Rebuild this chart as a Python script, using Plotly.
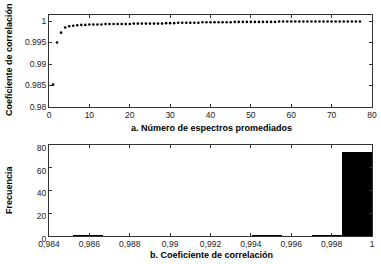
import plotly.graph_objects as go

# Top plot: correlation coefficient vs number of averaged spectra
n_espectros = list(range(1, 78))
coef_corr = [
    0.9852, 0.9950, 0.9973, 0.9985, 0.9988, 0.9989, 0.9990, 0.9991, 0.9991, 0.9992,
    0.9992, 0.9992, 0.9992, 0.9993, 0.9993, 0.9993, 0.9993, 0.9993, 0.9993, 0.9993,
    0.9994, 0.9994, 0.9994, 0.9994, 0.9994, 0.9994, 0.9994, 0.9994, 0.9995, 0.9995,
    0.9995, 0.9996, 0.9996, 0.9996, 0.9996, 0.9996, 0.9996, 0.9997, 0.9997, 0.9997,
    0.9997, 0.9997, 0.9997, 0.9997, 0.9997, 0.9998, 0.9998, 0.9998, 0.9998, 0.9998,
    0.9998, 0.9998, 0.9998, 0.9998, 0.9998, 0.9998, 0.9999, 0.9999, 0.9999, 0.9999,
    0.9999, 0.9999, 0.9999, 0.9999, 0.9999, 0.9999, 0.9999, 0.9999, 0.9999, 0.9999,
    0.9999, 0.9999, 0.9999, 0.9999, 0.9999, 0.9999, 0.9999,
]

# Bottom plot: histogram of the coefficients (10 bins)
bin_counts = [1, 0, 0, 0, 0, 0, 1, 0, 1, 74]
hist_min = 0.9852
hist_max = 1.0000

top_xticks = [0, 10, 20, 30, 40, 50, 60, 70, 80]
top_yticks = [0.98, 0.985, 0.99, 0.995, 1]
top_yticklabels = ["0.98", "0.985", "0.99", "0.995", "1"]
bot_xticks = [0.984, 0.986, 0.988, 0.990, 0.992, 0.994, 0.996, 0.998, 1.0]
bot_xticklabels = ["0,984", "0,986", "0,988", "0,99", "0,992", "0,994", "0,996", "0,998", "1"]
bot_yticks = [0, 20, 40, 60, 80]

nb = len(bin_counts)
bw = (hist_max - hist_min) / nb
bin_centers = [hist_min + bw * (i + 0.5) for i in range(nb)]

W, H = 381, 264

def fx(p):
    return p / W

def fy(p):
    return 1 - p / H

fig = go.Figure()
fig.add_trace(go.Scatter(
    x=n_espectros, y=coef_corr, mode="markers",
    marker=dict(color="black", size=2.6, symbol="circle"),
    xaxis="x", yaxis="y", showlegend=False, hoverinfo="skip"))
fig.add_trace(go.Bar(
    x=bin_centers, y=bin_counts, width=[bw] * nb,
    marker=dict(color="black", line=dict(width=0)),
    xaxis="x2", yaxis="y2", showlegend=False))

tickfont = dict(family="Liberation Sans, Arial, sans-serif", size=8.5, color="#222")
axcommon = dict(showline=True, linecolor="#333", linewidth=1, mirror="ticks",
                ticks="inside", ticklen=3, tickcolor="#333", showgrid=False,
                zeroline=False, tickfont=tickfont, automargin=False)

fig.update_layout(
    width=W, height=H, autosize=False,
    margin=dict(l=0, r=0, t=0, b=0, pad=0),
    paper_bgcolor="white", plot_bgcolor="white",
    bargap=0,
    xaxis=dict(domain=[fx(49), fx(372)], range=[0, 80], tickvals=top_xticks,
               anchor="y", **axcommon),
    yaxis=dict(domain=[fy(107), fy(15)], range=[0.98, 1.0014], tickvals=top_yticks,
               ticktext=top_yticklabels, anchor="x", **axcommon),
    xaxis2=dict(domain=[fx(49), fx(372)], range=[0.984, 1.0], tickvals=bot_xticks,
                ticktext=bot_xticklabels, anchor="y2", **axcommon),
    yaxis2=dict(domain=[fy(236), fy(145)], range=[0, 80], tickvals=bot_yticks,
                anchor="x2", ticklabelshift=3, **axcommon),
)

titlefont = dict(family="Liberation Sans, Arial, sans-serif", size=9, color="black")
ann = [
    dict(text="<b>a. Número de espectros promediados</b>", x=fx(211), y=fy(128)),
    dict(text="<b>b. Coeficiente de correlación</b>", x=fx(211), y=fy(255)),
    dict(text="<b>Coeficiente de correlación</b>", x=fx(9), y=fy(60), textangle=-90),
    dict(text="<b>Frecuencia</b>", x=fx(9), y=fy(190), textangle=-90),
]
for a in ann:
    fig.add_annotation(xref="paper", yref="paper", showarrow=False,
                       xanchor="center", yanchor="middle", font=titlefont, **a)

fig.write_html("out.html",
               config={"displayModeBar": False, "staticPlot": True},
               post_script="document.body.style.margin='0';document.body.style.padding='0';")
